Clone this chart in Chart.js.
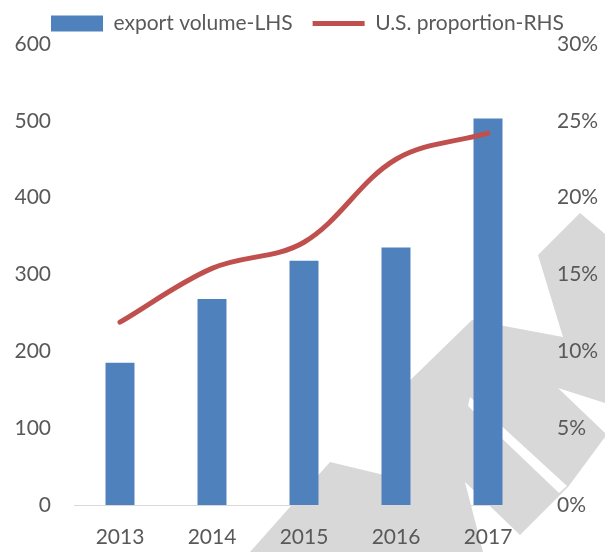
<!DOCTYPE html>
<html>
<head>
<meta charset="utf-8">
<script src="https://cdn.jsdelivr.net/npm/chart.js@4/dist/chart.umd.min.js"></script>
<style>
  html, body { margin: 0; padding: 0; background: #fff; }
  canvas { display: block; }
</style>
</head>
<body>
<canvas id="mixChart" width="605" height="552"></canvas>
<script>
const years = ["2013", "2014", "2015", "2016", "2017"];
const exportVolume = [185, 268, 318, 335, 503];
const usShare = [11.9, 15.4, 17.1, 22.5, 24.2];
const leftMax = 600, leftStep = 100;
const rightMax = 30, rightStep = 5;

const textColor = "#595959";
const tickFont = { family: "Lato", size: 21 };

// grey watermark behind the plot (decoration only)
const watermark = {
  id: "watermark",
  beforeDraw(chart) {
    const c = chart.ctx;
    c.save();
    c.fillStyle = "#fff";
    c.fillRect(0, 0, chart.width, chart.height);
    const poly = (pts, col) => {
      c.fillStyle = col;
      c.beginPath();
      pts.forEach((p, i) => (i ? c.lineTo(p[0], p[1]) : c.moveTo(p[0], p[1])));
      c.closePath();
      c.fill();
    };
    poly([[330, 462], [405, 480], [395, 395], [472, 320], [563, 337], [538, 255], [580, 213],
          [605, 234], [605, 437], [568, 487], [520, 535], [465, 482], [483, 552], [250, 552]], "#d8d8d8");
    poly([[470, 397], [567, 486], [559, 493], [468, 406]], "#fff");
    poly([[605, 403], [558, 388], [605, 433]], "#fff");
    c.restore();
  }
};

new Chart(document.getElementById("mixChart"), {
  data: {
    labels: years,
    datasets: [
      {
        type: "bar",
        label: "export volume-LHS",
        data: exportVolume,
        backgroundColor: "#4f81bd",
        borderWidth: 0,
        barPercentage: 0.315,
        categoryPercentage: 1,
        pointStyle: "rect",
        yAxisID: "y",
        order: 2,
      },
      {
        type: "line",
        label: "U.S. proportion-RHS",
        data: usShare,
        borderColor: "#c0504d",
        backgroundColor: "#c0504d",
        borderWidth: 5,
        borderCapStyle: "round",
        tension: 0.35,
        pointRadius: 0,
        pointStyle: "line",
        yAxisID: "y1",
        order: 1,
      },
    ],
  },
  options: {
    responsive: false,
    animation: false,
    layout: { padding: { top: -7, left: 10, right: 0, bottom: 0 } },
    plugins: {
      tooltip: { enabled: false },
      legend: {
        position: "top",
        labels: {
          usePointStyle: true,
          pointStyleWidth: 52,
          boxHeight: 16,
          padding: 20,
          color: textColor,
          font: tickFont,
          sort: (a, b) => a.datasetIndex - b.datasetIndex,
        },
      },
    },
    scales: {
      x: {
        grid: { display: false, drawTicks: false },
        border: { display: true, color: "#d9d9d9", width: 1 },
        ticks: { color: textColor, font: tickFont, padding: 20 },
        afterFit: (s) => { s.height = 47; },
      },
      y: {
        position: "left",
        min: 0,
        max: leftMax,
        grid: { display: false, drawTicks: false },
        border: { display: false },
        ticks: { stepSize: leftStep, color: textColor, font: tickFont, padding: 23 },
        afterFit: (s) => { s.width = 64; },
      },
      y1: {
        position: "right",
        min: 0,
        max: rightMax,
        grid: { display: false, drawTicks: false },
        border: { display: false },
        ticks: { stepSize: rightStep, color: textColor, font: tickFont, padding: 23,
                 callback: (v) => v + "%" },
        afterFit: (s) => { s.width = 71; },
      },
    },
  },
  plugins: [watermark],
});
</script>
</body>
</html>
